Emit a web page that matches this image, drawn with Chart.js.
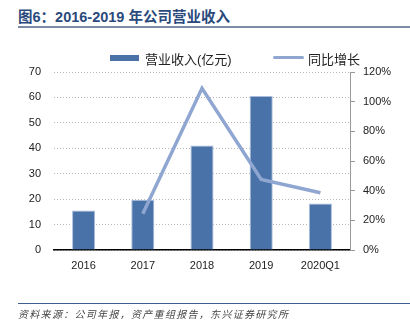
<!DOCTYPE html>
<html>
<head>
<meta charset="utf-8">
<script src="https://cdn.jsdelivr.net/npm/chart.js@4/dist/chart.umd.min.js"></script>
<style>
  body { margin: 0; background: #fff; width: 410px; height: 332px; overflow: hidden; position: relative;
         font-family: "Liberation Sans", "Noto Sans CJK SC", sans-serif; }
  #title { position: absolute; left: 18px; top: 5px; font-size: 14.5px; font-weight: bold; color: #2b4a7c; white-space: nowrap; }
  #titleLine { position: absolute; left: 18px; top: 26px; width: 392px; height: 2px; background: #7d8ca4; }
  #wrap { position: absolute; left: 0; top: 0; width: 410px; height: 332px; }
  .leg { position: absolute; top: 49px; font-size: 13px; color: #222; white-space: nowrap; }
  .sw { position: absolute; }
  #footLine { position: absolute; left: 18px; top: 303px; width: 392px; height: 1px; background: #3d5f8f; }
  #foot { position: absolute; left: 18px; top: 306px; font-size: 10px; font-style: italic; color: #444; letter-spacing: 1.3px; white-space: nowrap; }
</style>
</head>
<body>
<div id="title">图6：2016-2019 年公司营业收入</div>
<div id="titleLine"></div>
<div id="wrap"><canvas id="c" width="410" height="332"></canvas></div>
<div class="sw" style="left:110px;top:55px;width:29px;height:6px;background:#4872a8"></div>
<div class="leg" style="left:145px">营业收入(亿元)</div>
<div class="sw" style="left:273px;top:56px;width:31px;height:3px;background:#8ea6d0;border-radius:2px"></div>
<div class="leg" style="left:308px">同比增长</div>
<div id="footLine"></div>
<div id="foot">资料来源：公司年报，资产重组报告，东兴证券研究所</div>
<script>
// data
var categories = ['2016', '2017', '2018', '2019', '2020Q1'];
var revenue = [15.5, 19.8, 41.1, 60.6, 18.3];      // 营业收入(亿元)
var growth = [null, 24.4, 109, 47.6, 38.6];          // 同比增长 %
var leftTicks = [0, 10, 20, 30, 40, 50, 60, 70];
var rightTicks = [0, 20, 40, 60, 80, 100, 120];

var ctx = document.getElementById('c');
new Chart(ctx, {
  type: 'bar',
  data: {
    labels: categories,
    datasets: [
      {
        type: 'line',
        label: '同比增长',
        data: growth,
        yAxisID: 'y1',
        borderColor: '#8ea6d0',
        borderWidth: 3.5,
        pointRadius: 0,
        tension: 0,
        spanGaps: false,
        order: 0
      },
      {
        label: '营业收入(亿元)',
        data: revenue,
        yAxisID: 'y',
        backgroundColor: '#4872a8',
        borderColor: '#a9bddb',
        borderWidth: 1,
        barPercentage: 0.78,
        categoryPercentage: 0.5,
        order: 1
      }
    ]
  },
  options: {
    responsive: false,
    animation: false,
    layout: { padding: { top: 72, left: 0, right: 0, bottom: 0 } },
    plugins: { legend: { display: false }, tooltip: { enabled: false } },
    scales: {
      x: {
        grid: { display: false, drawTicks: false },
        border: { color: '#000', width: 1.5 },
        ticks: { color: '#222', font: { size: 11, family: 'Liberation Sans' }, padding: 9 },
        afterFit: function (s) { s.height = 82; }
      },
      y: {
        position: 'left',
        min: 0, max: 70,
        afterBuildTicks: function (s) { s.ticks = leftTicks.map(function (v) { return { value: v }; }); },
        grid: { color: '#b8b8b8', lineWidth: 1, drawTicks: false },
        border: { display: false, dash: [1, 2] },
        ticks: { color: '#222', font: { size: 11, family: 'Liberation Sans' }, padding: 13 },
        afterFit: function (s) { s.width = 54; }
      },
      y1: {
        position: 'right',
        min: 0, max: 120,
        afterBuildTicks: function (s) { s.ticks = rightTicks.map(function (v) { return { value: v }; }); },
        grid: { drawOnChartArea: false, drawTicks: true, tickLength: 5, color: '#999' },
        border: { display: true, color: '#999', width: 1 },
        ticks: {
          color: '#222', font: { size: 11, family: 'Liberation Sans' }, padding: 8,
          callback: function (v) { return v + '%'; }
        },
        afterFit: function (s) { s.width = 60; }
      }
    }
  }
});
</script>
</body>
</html>
